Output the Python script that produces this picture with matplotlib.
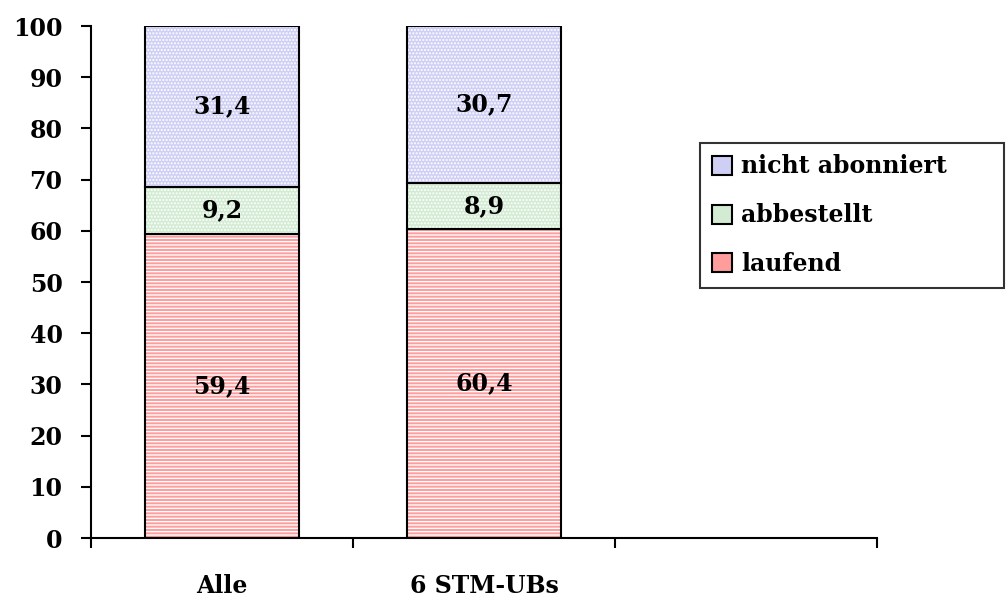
import matplotlib.pyplot as plt
import numpy as np

categories = ['Alle', '6 STM-UBs']
laufend = [59.4, 60.4]
abbestellt = [9.2, 8.9]
nicht_abonniert = [31.4, 30.7]
series = [('laufend', laufend, '#ff9c9c', '-----'),
          ('abbestellt', abbestellt, '#d2ebd2', '.....'),
          ('nicht abonniert', nicht_abonniert, '#cfcff5', '.....')]

plt.rcParams['font.family'] = 'DejaVu Serif'
plt.rcParams['font.weight'] = 'bold'
plt.rcParams['hatch.color'] = 'white'

fig = plt.figure(figsize=(10.06, 5.97), dpi=100)
ax = fig.add_axes([0.0905, 0.0988, 0.7813, 0.8576])

x = np.arange(len(categories))
width = 0.59
bottom = np.zeros(len(categories))
handles = []
for name, vals, color, hatch in series:
    v = np.array(vals)
    ax.bar(x, v, width, bottom=bottom, color=color, hatch=hatch,
           edgecolor='white', linewidth=0)
    ax.bar(x, v, width, bottom=bottom, fill=False, edgecolor='black',
           linewidth=1.5)
    for xi, b, val in zip(x, bottom, v):
        ax.text(xi, b + val / 2, f'{val:.1f}'.replace('.', ','), ha='center',
                va='center', fontsize=17, fontweight='bold')
    handles.append(plt.Rectangle((0, 0), 1, 1, facecolor=color, edgecolor='black', linewidth=1.5))
    bottom += v

ax.set_xlim(-0.5, 2.5)
ax.set_ylim(0, 100)
ax.set_yticks(range(0, 101, 10))
ax.set_xticks([-0.5, 0.5, 1.5, 2.5])
ax.set_xticklabels([])
ax.set_xticks(x, minor=True)
ax.set_xticklabels(categories, minor=True)
ax.tick_params(axis='x', which='minor', length=0, pad=26, labelsize=17)
ax.tick_params(axis='x', which='major', length=7.5, width=1.5, direction='out')
ax.tick_params(axis='y', length=7.5, width=1.5, direction='out', labelsize=17, pad=13)
for lbl in ax.get_yticklabels() + ax.get_xticklabels(minor=True):
    lbl.set_fontweight('bold')
ax.spines['top'].set_visible(False)
ax.spines['right'].set_visible(False)
ax.spines['left'].set_linewidth(1.5)
ax.spines['bottom'].set_linewidth(1.5)

# legend box spans the right edge of the figure, like the original
leg = fig.legend(handles[::-1], [s[0] for s in series][::-1],
                 loc='upper left', bbox_to_anchor=(0.696, 0.526, 0.302, 0.235),
                 mode='expand', frameon=True, fancybox=False, edgecolor='black',
                 fontsize=17, handlelength=0.85, handleheight=0.85,
                 handletextpad=0.4, labelspacing=1.05, borderpad=0.5,
                 borderaxespad=0)
leg.get_frame().set_linewidth(1.5)
for t in leg.get_texts():
    t.set_fontweight('bold')

fig.savefig('out.png', dpi=100)
